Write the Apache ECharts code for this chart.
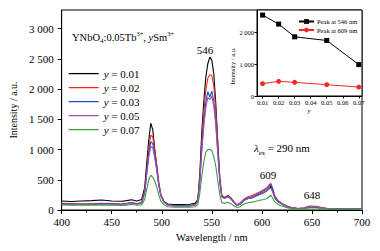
<!DOCTYPE html>
<html lang="en">
<head>
    <meta charset="UTF-8">
    <title>YNbO4 spectra</title>
    <script src="https://cdn.jsdelivr.net/npm/echarts@6/dist/echarts.min.js"></script>
    <style>
        html, body { margin: 0; padding: 0; background: #fff; }
        #main { width: 380px; height: 251px; }
    </style>
</head>
<body>
<div id="main"></div>
<script>
    // emission spectra, shared wavelength grid (nm)
    let wavelengths = [400, 410, 420, 430, 440, 450, 460, 465, 470, 475, 480, 483, 485, 487, 489, 491, 493, 495, 497, 499,
        502, 506, 512, 520, 528, 533, 536, 538, 540, 542, 544, 546, 548, 550, 552, 554, 556, 558, 560, 563,
        566, 569, 572, 575, 578, 582, 586, 590, 594, 598, 602, 605, 607, 609, 611, 613, 616, 619, 622, 626,
        630, 636, 642, 648, 654, 660, 666, 675, 685, 700];
    let y001 = [150, 140, 150, 155, 165, 150, 145, 155, 170, 150, 175, 380, 780, 1150, 1436, 1330, 1000, 720, 420, 240,
        140, 100, 90, 90, 95, 110, 170, 600, 1300, 1800, 2200, 2420, 2530, 2480, 2250, 1750, 1100, 520, 230, 200,
        240, 200, 130, 80, 95, 160, 190, 200, 230, 260, 290, 320, 350, 390, 300, 200, 140, 110, 80, 55,
        35, 25, 30, 50, 45, 30, 20, 20, 18, 18];
    let y002 = [110, 105, 100, 105, 110, 105, 100, 110, 125, 105, 130, 320, 650, 1000, 1240, 1210, 980, 750, 470, 270,
        150, 90, 70, 70, 72, 90, 150, 520, 1150, 1620, 1980, 2180, 2240, 2230, 2050, 1650, 1080, 520, 240, 210,
        235, 200, 140, 85, 110, 180, 220, 240, 270, 300, 340, 370, 410, 441, 350, 230, 160, 120, 90, 60,
        35, 25, 35, 65, 60, 40, 25, 20, 18, 18];
    let y003 = [100, 95, 100, 95, 105, 100, 95, 105, 120, 100, 120, 300, 620, 930, 1130, 1100, 900, 680, 430, 250,
        140, 85, 70, 68, 70, 85, 140, 480, 1020, 1450, 1780, 1960, 1870, 1965, 1800, 1450, 950, 460, 220, 200,
        230, 190, 130, 80, 100, 170, 200, 220, 250, 280, 320, 350, 390, 419, 330, 220, 150, 115, 85, 55,
        35, 25, 30, 55, 50, 35, 22, 20, 18, 18];
    let y005 = [95, 95, 90, 100, 100, 95, 95, 100, 115, 100, 115, 280, 580, 870, 1050, 1030, 860, 650, 410, 240,
        130, 80, 65, 65, 68, 80, 135, 460, 980, 1390, 1700, 1860, 1830, 1880, 1720, 1390, 920, 450, 210, 190,
        220, 180, 120, 75, 95, 160, 185, 205, 230, 255, 290, 320, 345, 365, 290, 200, 140, 110, 80, 55,
        35, 25, 35, 60, 55, 38, 22, 20, 18, 18];
    let y007 = [85, 80, 80, 85, 80, 80, 75, 80, 95, 80, 85, 180, 340, 500, 576, 540, 480, 380, 250, 150,
        90, 55, 45, 45, 48, 55, 90, 280, 560, 800, 960, 1000, 1006, 980, 880, 720, 480, 250, 120, 110,
        130, 105, 70, 40, 55, 100, 120, 130, 145, 160, 175, 190, 215, 245, 190, 130, 95, 70, 55, 35,
        25, 20, 22, 35, 32, 25, 18, 16, 15, 15];
    let spectraNames = ['0.01', '0.02', '0.03', '0.05', '0.07'];
    let spectraColors = ['#000000', '#f02828', '#1f4fd0', '#9a52b0', '#3f9a45'];
    let yTicks = [0, 500, 1000, 1500, 2000, 2500, 3000];

    // inset: peak intensity vs y
    let insetY = [0.01, 0.02, 0.03, 0.05, 0.07];
    let peak546 = [2550, 2266, 1864, 1750, 990];
    let peak609 = [389, 462, 430, 357, 282];
    let insetXTicks = [0.01, 0.02, 0.03, 0.04, 0.05, 0.06, 0.07];
    let insetYTicks = [0, 1000, 2000];

    let serif = 'Liberation Serif';

    function fmt(v) {
        if (v >= 1000) {
            return Math.floor(v / 1000) + ' ' + String(v % 1000).padStart(3, '0');
        }
        return String(v);
    }

    let spectra = [y001, y002, y003, y005, y007];
    let series = spectra.map(function (vals, k) {
        return {
            name: spectraNames[k],
            type: 'line',
            xAxisIndex: 0,
            yAxisIndex: 0,
            symbol: 'none',
            lineStyle: {width: 1.1, color: spectraColors[k]},
            itemStyle: {color: spectraColors[k]},
            data: wavelengths.map(function (w, i) { return [w, vals[i]]; })
        };
    });
    series.push({
        name: 'Peak at 546 nm',
        type: 'line',
        xAxisIndex: 1,
        yAxisIndex: 1,
        z: 10,
        symbol: 'rect',
        symbolSize: 5,
        lineStyle: {width: 1, color: '#000'},
        itemStyle: {color: '#000'},
        data: insetY.map(function (y, i) { return [y, peak546[i]]; })
    });
    series.push({
        name: 'Peak at 609 nm',
        type: 'line',
        xAxisIndex: 1,
        yAxisIndex: 1,
        z: 10,
        symbol: 'circle',
        symbolSize: 5,
        lineStyle: {width: 1, color: '#f02828'},
        itemStyle: {color: '#f02828'},
        data: insetY.map(function (y, i) { return [y, peak609[i]]; })
    });

    let mychart = echarts.init(document.getElementById('main'), null, {renderer: 'svg'});
    let option = {
        backgroundColor: '#fff',
        animation: false,
        textStyle: {fontFamily: serif, color: '#000'},
        grid: [
            {left: 59, right: 18, top: 10, bottom: 41, show: true, borderColor: '#000', borderWidth: 1},
            {left: 257, right: 18, top: 10, height: 86, show: true, borderColor: '#000', borderWidth: 1,
                backgroundColor: '#fff'}
        ],
        legend: [
            {
                data: spectraNames,
                orient: 'vertical',
                left: 63,
                top: 63,
                itemWidth: 30,
                itemHeight: 14,
                itemGap: 2.8,
                itemStyle: {opacity: 0},
                lineStyle: {width: 1.3},
                formatter: function (n) { return '{i|y} = ' + n; },
                textStyle: {
                    fontFamily: serif, fontSize: 11, color: '#000',
                    rich: {i: {fontFamily: serif, fontSize: 11, fontStyle: 'italic', color: '#000'}}
                }
            },
            {
                data: ['Peak at 546 nm', 'Peak at 609 nm'],
                orient: 'vertical',
                left: 293,
                top: 13,
                itemWidth: 15,
                itemHeight: 6,
                itemGap: 1.5,
                z: 10,
                textStyle: {fontFamily: serif, fontSize: 6.5, color: '#000', padding: [0, 0, 0, -2]}
            }
        ],
        xAxis: [
            {
                type: 'value',
                gridIndex: 0,
                min: 400,
                max: 700,
                interval: 50,
                name: 'Wavelength / nm',
                nameLocation: 'middle',
                nameGap: 21,
                nameTextStyle: {fontFamily: serif, fontSize: 10.5, color: '#000'},
                axisLine: {lineStyle: {color: '#000', width: 1}},
                axisTick: {inside: false, length: 4, lineStyle: {color: '#000'}},
                minorTick: {show: true, splitNumber: 2, length: 2.5, lineStyle: {color: '#000'}},
                axisLabel: {fontFamily: serif, fontSize: 11, color: '#000', margin: 6},
                splitLine: {show: false}
            },
            {
                type: 'value',
                gridIndex: 1,
                min: 0.0065,
                max: 0.072,
                axisLine: {onZero: false, lineStyle: {color: '#000', width: 1}},
                axisTick: {inside: false, length: 2.5, customValues: insetXTicks, lineStyle: {color: '#000'}},
                axisLabel: {
                    fontFamily: serif, fontSize: 6.5, color: '#000', margin: 3,
                    customValues: insetXTicks,
                    formatter: function (v) { return v.toFixed(2); }
                },
                splitLine: {show: false}
            }
        ],
        yAxis: [
            {
                type: 'value',
                gridIndex: 0,
                min: 0,
                max: 3310,
                name: 'Intensity / a.u.',
                nameLocation: 'middle',
                nameGap: 39,
                nameTextStyle: {fontFamily: serif, fontSize: 10, color: '#000'},
                axisLine: {lineStyle: {color: '#000', width: 1}},
                axisTick: {inside: false, length: 4, customValues: yTicks, lineStyle: {color: '#000'}},
                axisLabel: {fontFamily: serif, fontSize: 11, color: '#000', margin: 8,
                    customValues: yTicks, formatter: fmt},
                splitLine: {show: false}
            },
            {
                type: 'value',
                gridIndex: 1,
                min: 0,
                max: 2710,
                axisLine: {onZero: false, lineStyle: {color: '#000', width: 1}},
                axisTick: {inside: false, length: 2.5, customValues: insetYTicks, lineStyle: {color: '#000'}},
                axisLabel: {fontFamily: serif, fontSize: 6.5, color: '#000', margin: 3,
                    customValues: insetYTicks, formatter: fmt},
                splitLine: {show: false}
            }
        ],
        graphic: [
            {
                type: 'text', x: 72, y: 37, z: 20,
                style: {
                    text: 'YNbO{sub|4}:0.05Tb{sup|3+}, {i|y}Sm{sup|3+}',
                    font: '10.5px "Liberation Serif"', fill: '#000',
                    textVerticalAlign: 'middle',
                    rich: {
                        sub: {fontSize: 7, fontFamily: serif, verticalAlign: 'bottom', lineHeight: 15},
                        sup: {fontSize: 6.5, fontFamily: serif, verticalAlign: 'top', lineHeight: 15},
                        i: {fontSize: 10.5, fontFamily: serif, fontStyle: 'italic', lineHeight: 15}
                    }
                }
            },
            {
                type: 'text', x: 205, y: 50, z: 20,
                style: {text: '546', font: '11px "Liberation Serif"', fill: '#000',
                    textAlign: 'center', textVerticalAlign: 'middle'}
            },
            {
                type: 'text', x: 268, y: 175, z: 20,
                style: {text: '609', font: '11px "Liberation Serif"', fill: '#000',
                    textAlign: 'center', textVerticalAlign: 'middle'}
            },
            {
                type: 'text', x: 312, y: 195, z: 20,
                style: {text: '648', font: '11px "Liberation Serif"', fill: '#000',
                    textAlign: 'center', textVerticalAlign: 'middle'}
            },
            {
                type: 'text', x: 254, y: 148, z: 20,
                style: {
                    text: '{l|λ}{sub|ex} = 290 nm',
                    font: '11px "Liberation Serif"', fill: '#000',
                    textVerticalAlign: 'middle',
                    rich: {
                        l: {fontSize: 11, fontFamily: serif, fontStyle: 'italic', lineHeight: 15},
                        sub: {fontSize: 6.5, fontFamily: serif, verticalAlign: 'bottom', lineHeight: 15}
                    }
                }
            },
            {
                type: 'text', x: 232, y: 66, z: 20, rotation: Math.PI / 2,
                style: {text: 'Intensity / a.u.', font: '6.5px "Liberation Serif"', fill: '#000',
                    textAlign: 'center', textVerticalAlign: 'middle'}
            },
            {
                type: 'text', x: 309, y: 111, z: 20,
                style: {text: 'y', font: 'italic 7px "Liberation Serif"', fill: '#000',
                    textAlign: 'center', textVerticalAlign: 'middle'}
            }
        ],
        series: series
    };
    mychart.setOption(option);
</script>
</body>
</html>
